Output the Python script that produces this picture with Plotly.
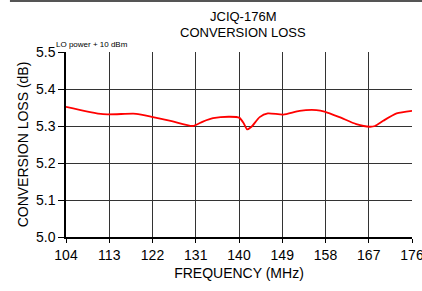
import plotly.graph_objects as go

freq = [104, 111.7, 118.6, 122.1, 126.0, 130.4, 132.5, 134.6, 138.1, 140.1, 141.0, 141.7, 142.6,
        144.3, 146.0, 149.2, 152.6, 156.1, 157.8, 160.9, 164.4, 167.2, 168.3, 170.0, 172.8, 176.0]
loss = [5.352, 5.332, 5.333, 5.324, 5.313, 5.300, 5.312, 5.321, 5.325, 5.322, 5.307, 5.291, 5.298,
        5.324, 5.334, 5.331, 5.341, 5.343, 5.339, 5.324, 5.305, 5.298, 5.300, 5.314, 5.334, 5.341]
x_ticks = [104, 113, 122, 131, 140, 149, 158, 167, 176]
y_ticks = [5.0, 5.1, 5.2, 5.3, 5.4, 5.5]

FONT = "Liberation Sans, Arial, sans-serif"

fig = go.Figure()
fig.add_trace(go.Scatter(x=freq, y=loss, mode="lines", line=dict(color="#ff0000", width=1.8, shape="spline", smoothing=0.6),
                         showlegend=False, hoverinfo="skip"))

fig.update_layout(
    width=422, height=291,
    margin=dict(l=66, r=10, t=52, b=54, autoexpand=False),
    paper_bgcolor="white", plot_bgcolor="white",
    font=dict(family=FONT, color="black", size=14),
    xaxis=dict(range=[104, 176], tickvals=x_ticks, ticktext=[str(v) for v in x_ticks],
               showgrid=True, gridcolor="#333333", gridwidth=1, zeroline=False, automargin=False,
               showline=True, linecolor="black", linewidth=2, mirror=False,
               ticks="outside", ticklen=4, tickcolor="black", ticklabeloverflow="allow",
               title=dict(text="FREQUENCY (MHz)", standoff=6, font=dict(size=14)),
               tickfont=dict(size=14)),
    yaxis=dict(range=[5.0, 5.5], tickvals=y_ticks, ticktext=["%.1f" % v for v in y_ticks],
               showgrid=True, gridcolor="#333333", gridwidth=1, zeroline=False, automargin=False,
               showline=True, linecolor="black", linewidth=1.5,
               ticks="outside", ticklen=6, tickcolor="black",
               title=dict(text="CONVERSION LOSS (dB)", standoff=4, font=dict(size=14)),
               tickfont=dict(size=14)),
)
fig.add_annotation(text="JCIQ-176M", xref="paper", yref="paper", x=0.512, y=1.0, xanchor="center", yanchor="middle",
                   yshift=36, showarrow=False, font=dict(family=FONT, size=13, color="black"))
fig.add_annotation(text="CONVERSION LOSS", xref="paper", yref="paper", x=0.512, y=1.0, xanchor="center", yanchor="middle",
                   yshift=20, showarrow=False, font=dict(family=FONT, size=13, color="black"))
fig.add_annotation(text="LO power + 10 dBm", xref="paper", yref="paper", x=-0.035, y=1.0, xanchor="left", yanchor="bottom",
                   showarrow=False, font=dict(family=FONT, size=8, color="black"), yshift=1)
fig.add_shape(type="line", xref="paper", yref="paper", x0=-0.162, x1=1.05, y0=1.2757, y1=1.2757,
              line=dict(color="#555555", width=2), layer="above")
fig.write_html("out.html", config={"displayModeBar": False},
               post_script="document.body.style.margin='0';document.body.style.overflow='hidden';")
